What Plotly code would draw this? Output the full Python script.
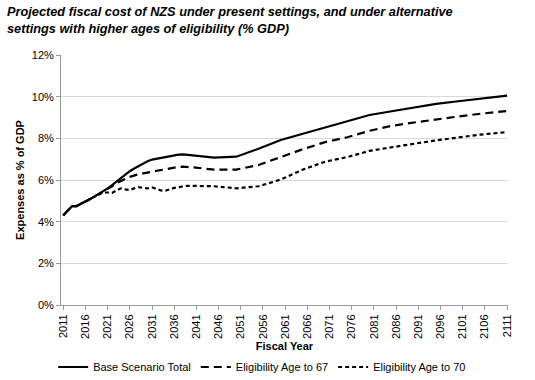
import plotly.graph_objects as go

years = list(range(2011, 2041)) + [2045, 2050, 2055, 2060, 2065, 2070, 2075, 2080, 2085, 2090, 2095, 2100, 2105, 2110, 2111]

base_total = [4.30, 4.55, 4.75, 4.75, 4.85, 4.95, 5.08, 5.20, 5.32, 5.45,
              5.60, 5.75, 5.92, 6.10, 6.26, 6.42, 6.55, 6.68, 6.80, 6.90,
              6.98, 7.02, 7.06, 7.10, 7.15, 7.18, 7.22, 7.23, 7.21, 7.19,
              7.07, 7.12, 7.50, 7.92, 8.22, 8.50, 8.82, 9.12, 9.30, 9.48,
              9.65, 9.78, 9.90, 10.03, 10.05]

age_67 = [4.30, 4.55, 4.75, 4.75, 4.85, 4.95, 5.08, 5.20, 5.32, 5.45,
          5.55, 5.70, 5.85, 5.97, 6.06, 6.15, 6.22, 6.28, 6.32, 6.36,
          6.40, 6.44, 6.48, 6.52, 6.56, 6.60, 6.63, 6.64, 6.63, 6.61,
          6.50, 6.50, 6.72, 7.10, 7.48, 7.82, 8.05, 8.36, 8.60, 8.76,
          8.92, 9.05, 9.18, 9.30, 9.31]

age_70 = [4.30, 4.55, 4.75, 4.75, 4.85, 4.95, 5.08, 5.20, 5.32, 5.40,
          5.40, 5.38, 5.50, 5.60, 5.55, 5.52, 5.60, 5.66, 5.62, 5.60,
          5.65, 5.58, 5.50, 5.48, 5.56, 5.62, 5.66, 5.70, 5.72, 5.72,
          5.70, 5.60, 5.70, 6.02, 6.50, 6.88, 7.10, 7.40, 7.58, 7.74,
          7.90, 8.05, 8.18, 8.28, 8.29]

series_names = ["Base Scenario Total", "Eligibility Age to 67", "Eligibility Age to 70"]
tick_years = list(range(2011, 2112, 5))
title_text = ("<b><i>Projected fiscal cost of NZS under present settings, and under alternative"
              "<br>settings with higher ages of eligibility (% GDP)</i></b>")

font = "Liberation Sans, Arial, sans-serif"
fig = go.Figure()
fig.add_trace(go.Scatter(x=years, y=base_total, mode="lines", name=series_names[0],
                         line=dict(color="black", width=2.2)))
fig.add_trace(go.Scatter(x=years, y=age_67, mode="lines", name=series_names[1],
                         line=dict(color="black", width=2.2, dash="8px,5px")))
fig.add_trace(go.Scatter(x=years, y=age_70, mode="lines", name=series_names[2],
                         line=dict(color="black", width=2.2, dash="4px,3px")))

fig.add_annotation(text=title_text, xref="paper", yref="paper",
                   x=-0.1253, y=1.212, xanchor="left", yanchor="top", align="left",
                   showarrow=False, font=dict(family=font, size=12.75, color="black"))

fig.update_layout(
    width=535, height=380,
    margin=dict(l=61, r=27, t=55, b=75, autoexpand=False),
    paper_bgcolor="white", plot_bgcolor="white",
    font=dict(family=font, size=11, color="black"),
    showlegend=True,
    legend=dict(orientation="h", x=0.45, xanchor="center", y=-0.248, yanchor="middle",
                font=dict(family=font, size=11), itemwidth=30, tracegroupgap=0,
                bgcolor="rgba(0,0,0,0)"),
    xaxis=dict(range=[2010.5, 2111.2], tickmode="array", tickvals=tick_years,
               ticktext=[str(t) for t in tick_years], tickangle=-90,
               showgrid=False, showline=True, linecolor="#999999", linewidth=1,
               ticks="outside", ticklen=4, tickcolor="#999999", automargin=False,
               title=dict(text="<b>Fiscal Year</b>", standoff=4, font=dict(size=11)),
               zeroline=False),
    yaxis=dict(range=[0, 12], tickvals=[0, 2, 4, 6, 8, 10, 12],
               ticktext=["0%", "2%", "4%", "6%", "8%", "10%", "12%"],
               showgrid=True, gridcolor="#d9d9d9", gridwidth=1,
               showline=True, linecolor="#999999", linewidth=1, automargin=False,
               ticks="outside", ticklen=4, tickcolor="#999999",
               title=dict(text="<b>Expenses as % of GDP</b>", standoff=4, font=dict(size=11)),
               zeroline=False),
)

fig.write_html("out.html", config={"displayModeBar": False},
               post_script="document.body.style.margin='0';document.body.style.overflow='hidden';")
